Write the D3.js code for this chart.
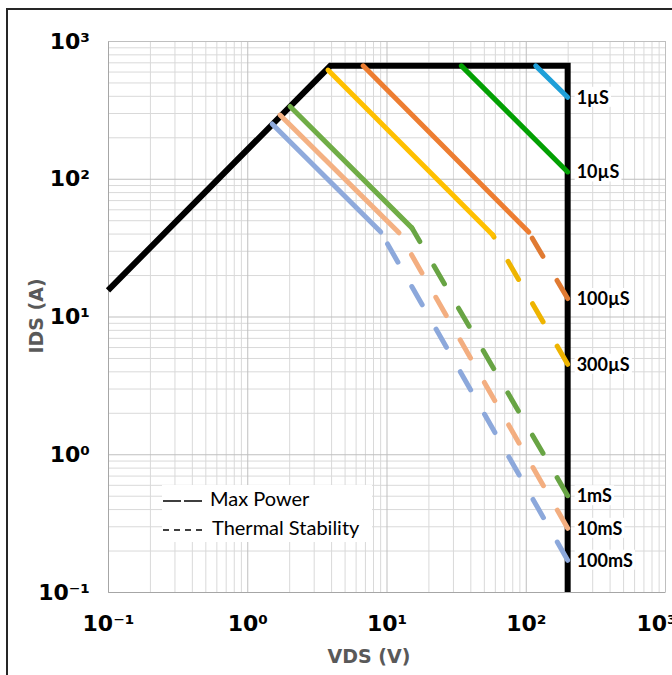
<!DOCTYPE html>
<html>
<head>
<meta charset="utf-8">
<script src="https://cdn.jsdelivr.net/npm/d3@7"></script>
<style>
  body { margin: 0; background: #fff; }
  .tick-label { font-family: "DejaVu Sans", sans-serif; font-weight: bold; }
</style>
</head>
<body>
<div id="soa-chart"></div>
<script>
// values (VDS in V, IDS in A)
var xTickValues = [0.1, 1, 10, 100, 1000];
var xTickLabels = ['10⁻¹', '10⁰', '10¹', '10²', '10³'];
var yTickValues = [0.1, 1, 10, 100, 1000];
var yTickLabels = ['10⁻¹', '10⁰', '10¹', '10²', '10³'];

var envelope = [[0.1, 15.5], [3.95, 660], [200, 660], [200, 0.1]];

var pulseNames = ['1µS', '10µS', '100µS', '300µS', '1mS', '10mS', '100mS'];
var maxPowerLines = [
	[[118, 660], [200, 390]],
	[[34.5, 660], [200, 112]],
	[[6.8, 660], [105, 41]],
	[[3.8, 615], [58, 39]],
	[[2.03, 335], [15.2, 44]],
	[[1.72, 290], [12.3, 40.5]],
	[[1.51, 250], [9.1, 41]]
];
var thermalLines = [
	null,
	null,
	[[105, 41], [200, 13.5]],
	[[58, 39], [200, 4.5]],
	[[15.2, 44], [200, 0.5]],
	[[12.3, 40.5], [200, 0.29]],
	[[9.1, 41], [200, 0.17]]
];
var legendNames = ['Max Power', 'Thermal Stability'];

// styles
var solidColors = ['#1E9FD8', '#03A003', '#ED7D31', '#FFC000', '#70AD47', '#F4B183', '#8FAADC'];
var dashColors = [null, null, '#E07A32', '#EEB400', '#68A444', '#F3AE80', '#8CA8DB'];
var dashLen = 21, gapLen = 28;

var W = 672, H = 675;
var padding = { top: 41, right: 7, bottom: 83, left: 108 };
var plotW = W - padding.left - padding.right;
var plotH = H - padding.top - padding.bottom;

var xScale = d3.scaleLog().domain([0.1, 1000]).range([0, plotW]);
var yScale = d3.scaleLog().domain([0.1, 1000]).range([plotH, 0]);

var svg = d3.select('#soa-chart')
	.append('svg')
	.attr('width', W)
	.attr('height', H);

// outer frame (runs off the right and bottom edges like the original)
svg.append('rect')
	.attr('x', 7)
	.attr('y', 9)
	.attr('width', 700)
	.attr('height', 700)
	.attr('fill', 'none')
	.attr('stroke', '#262626')
	.attr('stroke-width', 2);

var g = svg.append('g')
	.attr('transform', 'translate(' + padding.left + ',' + padding.top + ')');

// grid: minor first then decades
var minorX = xScale.ticks().filter(function(d){ return xTickValues.indexOf(d) < 0; });
var minorY = yScale.ticks().filter(function(d){ return yTickValues.indexOf(d) < 0; });

g.append('g')
	.attr('transform', 'translate(0,' + plotH + ')')
	.call(d3.axisBottom(xScale).tickValues(minorX).tickSize(-plotH).tickFormat(''))
	.call(function(s){ s.select('.domain').remove(); s.selectAll('line').attr('stroke', '#d9d9d9'); });
g.append('g')
	.call(d3.axisLeft(yScale).tickValues(minorY).tickSize(-plotW).tickFormat(''))
	.call(function(s){ s.select('.domain').remove(); s.selectAll('line').attr('stroke', '#d9d9d9'); });
g.append('g')
	.attr('transform', 'translate(0,' + plotH + ')')
	.call(d3.axisBottom(xScale).tickValues(xTickValues).tickSize(-plotH).tickFormat(''))
	.call(function(s){ s.select('.domain').remove(); s.selectAll('line').attr('stroke', '#bfbfbf'); });
g.append('g')
	.call(d3.axisLeft(yScale).tickValues(yTickValues).tickSize(-plotW).tickFormat(''))
	.call(function(s){ s.select('.domain').remove(); s.selectAll('line').attr('stroke', '#bfbfbf'); });

// axes with labels
g.append('g')
	.attr('transform', 'translate(0,' + plotH + ')')
	.call(d3.axisBottom(xScale).tickValues(xTickValues).tickSize(0).tickPadding(23)
		.tickFormat(function(d, i){ return xTickLabels[i]; }))
	.call(function(s){
		s.select('.domain').attr('stroke', '#a6a6a6');
		s.selectAll('text').attr('class', 'tick-label').attr('font-size', 22).attr('fill', '#000');
		// last label is pushed in, as the original does
		s.selectAll('text').filter(function(d){ return d === 1000; }).attr('dx', -9);
	});
g.append('g')
	.call(d3.axisLeft(yScale).tickValues(yTickValues).tickSize(0).tickPadding(18)
		.tickFormat(function(d, i){ return yTickLabels[i]; }))
	.call(function(s){
		s.select('.domain').attr('stroke', '#a6a6a6');
		s.selectAll('text').attr('class', 'tick-label').attr('font-size', 22).attr('fill', '#000');
	});

var linePath = d3.line()
	.x(function(d){ return xScale(d[0]); })
	.y(function(d){ return yScale(d[1]); });

g.append('path')
	.attr('d', linePath(envelope))
	.attr('fill', 'none')
	.attr('stroke', '#000')
	.attr('stroke-width', 6)
	.attr('stroke-linejoin', 'miter');

pulseNames.forEach(function(name, i){
	if (thermalLines[i]) {
		var tp = g.append('path')
			.attr('d', linePath(thermalLines[i]))
			.attr('fill', 'none')
			.attr('stroke', dashColors[i])
			.attr('stroke-width', 5)
			.attr('stroke-linecap', 'round')
			.attr('stroke-dasharray', dashLen + ',' + gapLen);
		// line the dash pattern up so a dash ends on the 200 V limit
		var L = tp.node().getTotalLength();
		var period = dashLen + gapLen;
		tp.attr('stroke-dashoffset', (((dashLen - L) % period) + period) % period);
	}
	g.append('path')
		.attr('d', linePath(maxPowerLines[i]))
		.attr('fill', 'none')
		.attr('stroke', solidColors[i])
		.attr('stroke-width', 5)
		.attr('stroke-linecap', 'round');
});

// data labels at the 200 V end of each curve
var labelG = g.append('g');
pulseNames.forEach(function(name, i){
	var line = thermalLines[i] || maxPowerLines[i];
	var end = line[line.length - 1];
	var lab = labelG.append('g')
		.attr('transform', 'translate(' + (xScale(end[0]) + 9) + ',' + yScale(end[1]) + ')');
	var bg = lab.append('rect').attr('fill', '#fff');
	var t = lab.append('text')
		.attr('font-family', 'Lato, sans-serif')
		.attr('font-weight', 'bold')
		.attr('font-size', 18)
		.attr('dy', '0.36em')
		.attr('fill', '#000')
		.text(name);
	var bb = t.node().getBBox();
	bg.attr('x', bb.x - 2).attr('y', bb.y + 1).attr('width', bb.width + 4).attr('height', bb.height - 2);
});

// legend
var legend = svg.append('g');
legend.append('rect')
	.attr('x', 162)
	.attr('y', 485)
	.attr('width', 210)
	.attr('height', 57)
	.attr('fill', '#fff');
var legendDash = ['18,3', '6,5'];
legendNames.forEach(function(name, i){
	var ly = 501 + i * 29;
	legend.append('line')
		.attr('x1', 163)
		.attr('x2', 203)
		.attr('y1', ly)
		.attr('y2', ly)
		.attr('stroke', '#000')
		.attr('stroke-width', 1.5)
		.attr('stroke-dasharray', legendDash[i]);
	legend.append('text')
		.attr('x', 210 + i * 2)
		.attr('y', ly + 5)
		.attr('font-family', 'Lato, sans-serif')
		.attr('font-size', 20)
		.attr('fill', '#000')
		.text(name);
});

// axis titles
svg.append('text')
	.attr('x', 369)
	.attr('y', 663)
	.attr('text-anchor', 'middle')
	.attr('font-family', 'DejaVu Sans, sans-serif')
	.attr('font-weight', 'bold')
	.attr('font-size', 19)
	.attr('fill', '#595959')
	.text('VDS (V)');
svg.append('text')
	.attr('transform', 'translate(43,316) rotate(-90)')
	.attr('text-anchor', 'middle')
	.attr('font-family', 'DejaVu Sans, sans-serif')
	.attr('font-weight', 'bold')
	.attr('font-size', 19)
	.attr('fill', '#595959')
	.text('IDS (A)');
</script>
</body>
</html>
